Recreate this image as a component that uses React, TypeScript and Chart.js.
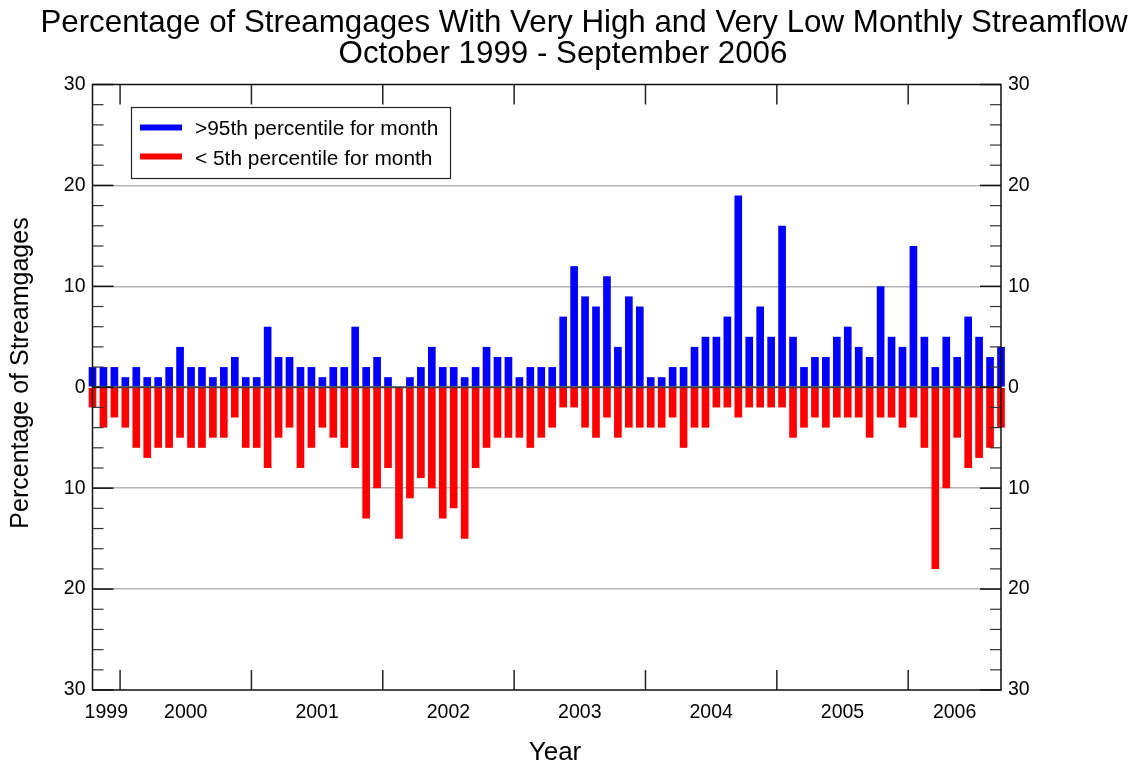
import React, { useEffect, useRef } from "react";
import { Chart, registerables } from "chart.js";

Chart.register(...registerables);

// ---- Data ----
const FIRST_YEAR = 1999;
const FIRST_MONTH = 10; // October 1999 .. September 2006

// Percentage of streamgages > 95th percentile for month
const highPct = [
  2, 2, 2, 1, 2, 1, 1, 2, 4, 2, 2, 1, 2, 3, 1, 1, 6, 3, 3, 2, 2, 1, 2, 2, 6, 2, 3, 1, 0,
  1, 2, 4, 2, 2, 1, 2, 4, 3, 3, 1, 2, 2, 2, 7, 12, 9, 8, 11, 4, 9, 8, 1, 1, 2, 2, 4, 5, 5,
  7, 19, 5, 8, 5, 16, 5, 2, 3, 3, 5, 6, 4, 3, 10, 5, 4, 14, 5, 2, 5, 3, 7, 5, 3, 4,
];

// Percentage of streamgages < 5th percentile for month
const lowPct = [
  2, 4, 3, 4, 6, 7, 6, 6, 5, 6, 6, 5, 5, 3, 6, 6, 8, 5, 4, 8, 6, 4, 5, 6, 8, 13, 10, 8, 15,
  11, 9, 10, 13, 12, 15, 8, 6, 5, 5, 5, 6, 5, 4, 2, 2, 4, 5, 3, 5, 4, 4, 4, 4, 3, 6, 4, 4, 2,
  2, 3, 2, 2, 2, 2, 5, 4, 3, 4, 3, 3, 3, 5, 3, 3, 4, 3, 6, 18, 10, 5, 8, 7, 6, 4,
];

const yearLabels = ["1999", "2000", "2001", "2002", "2003", "2004", "2005", "2006"];
const yTickValues = [-30, -20, -10, 0, 10, 20, 30];

const seriesLabels = [">95th percentile for month", "< 5th percentile for month"];
const seriesColors = ["#0000ff", "#ff0000"];

const titleLines = [
  "Percentage of Streamgages With Very High and Very Low Monthly Streamflow",
  "October 1999 - September 2006",
];
const yAxisTitle = "Percentage of Streamgages";
const xAxisTitle = "Year";

// month index helpers (bars sit at mid-month; index 0 = mid Oct 1999)
const nMonths = highPct.length;
const monthLabels = highPct.map((_, i) => {
  const m = FIRST_MONTH - 1 + i;
  return `${FIRST_YEAR + Math.floor(m / 12)}-${String((m % 12) + 1).padStart(2, "0")}`;
});
const yearStartIndex = (year: number) => (year - FIRST_YEAR) * 12 - (FIRST_MONTH - 1) - 0.48;
const yearBoundaries = yearLabels.slice(1).map((y) => yearStartIndex(Number(y)));
const yearCenters = yearLabels.map((y) => {
  const s = Math.max(0, yearStartIndex(Number(y)));
  const e = Math.min(nMonths - 1, yearStartIndex(Number(y) + 1));
  return (s + e) / 2;
});

const FONT = '"Liberation Sans", Arial, Helvetica, sans-serif';

const framePlugin = {
  id: "frame",
  afterDatasetsDraw(chart: any) {
    const { ctx, chartArea, scales } = chart;
    const { left, right, top, bottom } = chartArea;
    const x = scales.x;
    const y = scales.y;
    const line = (x1: number, y1: number, x2: number, y2: number) => {
      ctx.beginPath();
      ctx.moveTo(x1, y1);
      ctx.lineTo(x2, y2);
      ctx.stroke();
    };
    ctx.save();
    // zero line
    const y0 = y.getPixelForValue(0);
    ctx.strokeStyle = "#404040";
    ctx.lineWidth = 2;
    line(left, y0, right, y0);
    // y ticks (left and right, inward)
    for (let v = -30; v <= 30; v += 2) {
      const py = y.getPixelForValue(v);
      const major = v % 10 === 0;
      const len = major ? 21 : 11;
      ctx.lineWidth = major ? 1.5 : 1.2;
      ctx.strokeStyle = major ? "#111" : "#333";
      line(left, py, left + len, py);
      line(right - len, py, right, py);
    }
    // x ticks at year boundaries (top and bottom, inward)
    ctx.lineWidth = 1.5;
    ctx.strokeStyle = "#222";
    yearBoundaries.forEach((b) => {
      const px = x.getPixelForValue(b);
      line(px, top, px, top + 20);
      line(px, bottom - 20, px, bottom);
    });
    // frame
    ctx.strokeStyle = "#111";
    ctx.lineWidth = 1.5;
    ctx.strokeRect(left, top, right - left, bottom - top);
    ctx.restore();
  },
};

const textPlugin = {
  id: "texts",
  afterDraw(chart: any) {
    const { ctx } = chart;
    ctx.save();
    ctx.fillStyle = "#000";
    // title
    ctx.font = `31.3px ${FONT}`;
    ctx.textAlign = "center";
    ctx.textBaseline = "alphabetic";
    ctx.fillText(titleLines[0], 584, 32);
    ctx.fillText(titleLines[1], 563, 63);
    // x axis title
    ctx.font = `26px ${FONT}`;
    ctx.fillText(xAxisTitle, 555, 760);
    // y axis title
    ctx.save();
    ctx.translate(21, 373);
    ctx.rotate(-Math.PI / 2);
    ctx.font = `25px ${FONT}`;
    ctx.textBaseline = "middle";
    ctx.fillText(yAxisTitle, 0, 0);
    ctx.restore();
    // legend
    const bx = 131.5, by = 107.5, bw = 319, bh = 71;
    ctx.fillStyle = "#fff";
    ctx.fillRect(bx, by, bw, bh);
    ctx.strokeStyle = "#222";
    ctx.lineWidth = 1.2;
    ctx.strokeRect(bx, by, bw, bh);
    const rows = [127.5, 156.5];
    const baselines = [135, 164.5];
    ctx.font = `20.9px ${FONT}`;
    ctx.textAlign = "left";
    ctx.textBaseline = "alphabetic";
    rows.forEach((ry, i) => {
      ctx.strokeStyle = seriesColors[i];
      ctx.lineWidth = 6;
      ctx.lineCap = "butt";
      ctx.beginPath();
      ctx.moveTo(140, ry);
      ctx.lineTo(182, ry);
      ctx.stroke();
      ctx.fillStyle = "#000";
      ctx.fillText(seriesLabels[i], 195, baselines[i]);
    });
    ctx.restore();
  },
};

export default function App() {
  const ref = useRef<HTMLCanvasElement>(null);
  useEffect(() => {
    if (!ref.current) return;
    Chart.defaults.font.family = FONT;
    const tickFont = { size: 19.5, family: FONT };
    const chart = new Chart(ref.current, {
      type: "bar",
      data: {
        labels: monthLabels,
        datasets: [
          {
            label: seriesLabels[0],
            data: highPct.map((v, i) => ({ x: i, y: v })),
            backgroundColor: seriesColors[0],
            borderWidth: 0,
            barPercentage: 0.7,
            categoryPercentage: 1,
            grouped: false,
            clip: false,
          } as any,
          {
            label: seriesLabels[1],
            data: lowPct.map((v, i) => ({ x: i, y: -v })),
            backgroundColor: seriesColors[1],
            borderWidth: 0,
            barPercentage: 0.7,
            categoryPercentage: 1,
            grouped: false,
            clip: false,
          } as any,
        ],
      },
      options: {
        animation: false,
        responsive: false,
        events: [],
        layout: { padding: { top: 84.5, left: 0, right: 0, bottom: 0 } },
        plugins: {
          legend: { display: false },
          title: { display: false },
          tooltip: { enabled: false },
        },
        scales: {
          x: {
            type: "linear",
            min: 0,
            max: nMonths - 1,
            offset: false,
            grid: { display: false },
            border: { display: false },
            afterBuildTicks: (s: any) => {
              s.ticks = yearCenters.map((v) => ({ value: v }));
            },
            afterFit: (s: any) => {
              s.height = 74;
            },
            ticks: {
              autoSkip: false,
              maxRotation: 0,
              minRotation: 0,
              padding: 3,
              color: "#000",
              font: tickFont,
              callback: (_v: any, i: number) => yearLabels[i],
            },
          } as any,
          y: {
            min: -30,
            max: 30,
            afterBuildTicks: (s: any) => {
              s.ticks = yTickValues.map((v) => ({ value: v }));
            },
            afterFit: (s: any) => {
              s.width = 92.5;
            },
            ticks: {
              padding: 7,
              color: "#000",
              font: tickFont,
              callback: (v: any) => String(Math.abs(Number(v))),
            },
            grid: {
              drawTicks: false,
              lineWidth: 1.5,
              color: (c: any) => {
                const v = c.tick ? c.tick.value : 0;
                return Math.abs(v) === 10 || Math.abs(v) === 20 ? "#b4b4b4" : "rgba(0,0,0,0)";
              },
            },
            border: { display: false },
          } as any,
          y2: {
            position: "right",
            min: -30,
            max: 30,
            afterBuildTicks: (s: any) => {
              s.ticks = yTickValues.map((v) => ({ value: v }));
            },
            afterFit: (s: any) => {
              s.width = 135;
            },
            ticks: {
              padding: 7,
              color: "#000",
              font: tickFont,
              callback: (v: any) => String(Math.abs(Number(v))),
            },
            grid: { display: false, drawTicks: false },
            border: { display: false },
          } as any,
        },
      },
      plugins: [framePlugin, textPlugin],
    });
    return () => chart.destroy();
  }, []);

  return (
    <div style={{ width: 1136, height: 764, position: "relative", overflow: "hidden" }}>
      <style>{"html,body{margin:0;padding:0;overflow:hidden;background:#fff;}"}</style>
      <canvas ref={ref} width={1136} height={764} style={{ display: "block" }} />
    </div>
  );
}
